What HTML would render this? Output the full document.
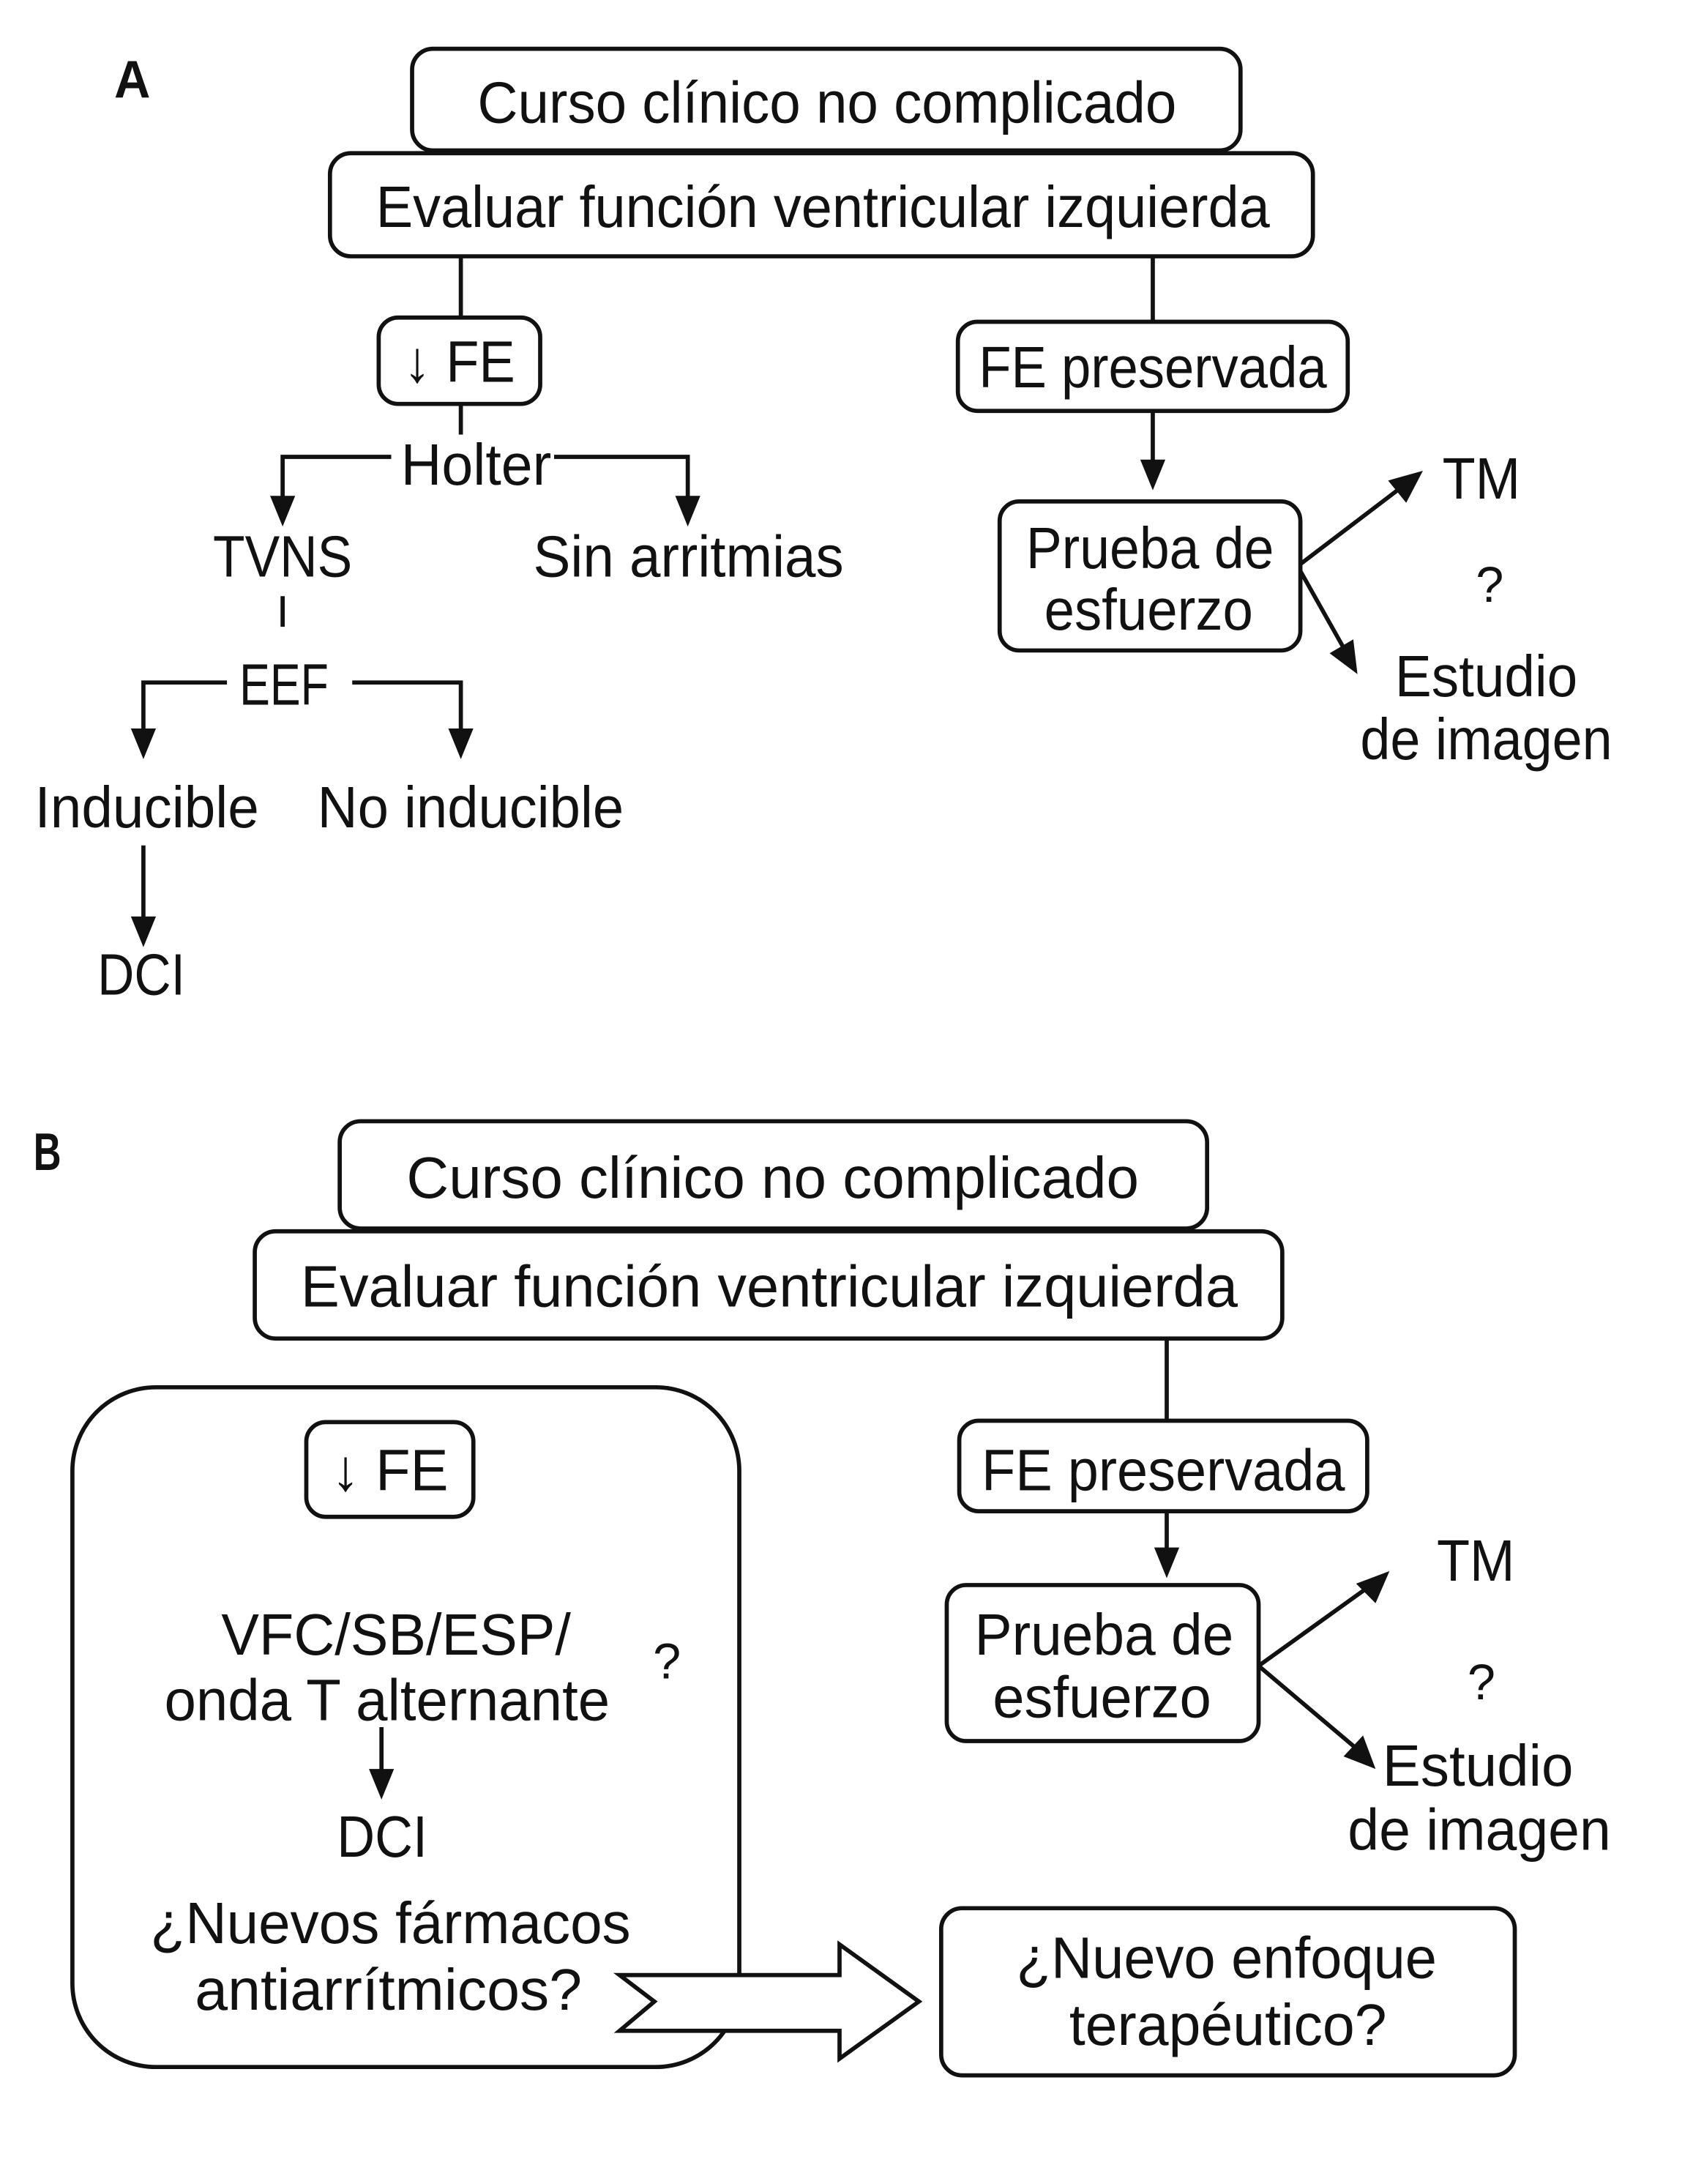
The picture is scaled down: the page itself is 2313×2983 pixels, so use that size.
<!DOCTYPE html>
<html><head><meta charset="utf-8"><style>html,body{margin:0;padding:0;background:#fff}svg{display:block}</style></head><body>
<svg width="2313" height="2983" viewBox="0 0 1216 1568" preserveAspectRatio="none" xmlns="http://www.w3.org/2000/svg">
<defs><marker id="ah" markerWidth="10" markerHeight="10" refX="9" refY="5" orient="auto" markerUnits="userSpaceOnUse" viewBox="0 0 10 10"><path d="M0,0 L10,5 L0,10 z" fill="#111"/></marker>
<marker id="a2" markerWidth="22" markerHeight="26" refX="20" refY="13" orient="auto" markerUnits="userSpaceOnUse"><path d="M0,0 L22,13 L0,26 z" fill="#111"/></marker></defs>
<g fill="none" stroke="#111" stroke-width="3">
<rect x="296" y="35" width="595" height="73" rx="15"/>
<rect x="237" y="110" width="706" height="74" rx="15"/>
<rect x="272" y="228" width="116" height="62" rx="14"/>
<rect x="688" y="231" width="280" height="64" rx="14"/>
<rect x="718" y="360" width="216" height="107" rx="14"/>
<line x1="331" y1="184" x2="331" y2="228"/>
<line x1="828" y1="184" x2="828" y2="231"/>
<line x1="828" y1="295" x2="828" y2="332"/>
<line x1="934" y1="405" x2="1005" y2="351"/>
<line x1="934" y1="410" x2="965" y2="465"/>
<line x1="331" y1="290" x2="331" y2="312"/>
<polyline points="281,328 203,328 203,358"/>
<polyline points="398,328 494,328 494,358"/>
<line x1="203" y1="428" x2="203" y2="450"/>
<polyline points="163,490 103,490 103,525"/>
<polyline points="253,490 331,490 331,525"/>
<line x1="103" y1="607" x2="103" y2="660"/>
<rect x="244" y="805" width="623" height="77" rx="15"/>
<rect x="183" y="884" width="738" height="77" rx="15"/>
<line x1="838" y1="961" x2="838" y2="1020"/>
<rect x="689" y="1020" width="293" height="65" rx="14"/>
<line x1="838" y1="1085" x2="838" y2="1113"/>
<rect x="680" y="1138" width="224" height="112" rx="14"/>
<line x1="904" y1="1196" x2="982" y2="1140"/>
<line x1="904" y1="1196" x2="975" y2="1256"/>
<rect x="52" y="996" width="479" height="488" rx="60"/>
<rect x="220" y="1021" width="120" height="68" rx="14"/>
<line x1="274" y1="1240" x2="274" y2="1272"/>
<rect x="676" y="1370" width="412" height="120" rx="15"/>
</g>
<g fill="#111">
<path d="M203,378 L194,356 L212,356 z"/><path d="M494,378 L485,356 L503,356 z"/>
<path d="M103,545 L94,523 L112,523 z"/><path d="M331,545 L322,523 L340,523 z"/>
<path d="M103,680 L94,658 L112,658 z"/><path d="M828,352 L819,330 L837,330 z"/>
<path d="M838,1133 L829,1111 L847,1111 z"/><path d="M274,1292 L265,1270 L283,1270 z"/>
<path d="M1022,338 L1010,361 L997,345 z"/><path d="M975,484 L955,469 L972,459 z"/>
<path d="M998,1128 L988,1151 L974,1137 z"/><path d="M988,1270 L965,1261 L979,1246 z"/>
</g>
<polygon points="445,1418 603,1418 603,1396 660,1437 603,1478 603,1458 445,1458 470,1437" fill="#fff" stroke="#111" stroke-width="3"/>
<g font-family="'Liberation Sans Narrow','Liberation Sans',sans-serif" font-size="42" fill="#111" lengthAdjust="spacingAndGlyphs">
<text x="82" y="70" font-weight="bold" font-size="38" textLength="26" lengthAdjust="spacingAndGlyphs">A</text>
<text x="24" y="840" font-weight="bold" font-size="38" textLength="20" lengthAdjust="spacingAndGlyphs">B</text>
<text x="343" y="88" textLength="502" lengthAdjust="spacingAndGlyphs">Curso clínico no complicado</text>
<text x="270" y="163" textLength="642" lengthAdjust="spacingAndGlyphs">Evaluar función ventricular izquierda</text>
<text x="290" y="274" textLength="80" lengthAdjust="spacingAndGlyphs">↓ FE</text>
<text x="703" y="278" textLength="250" lengthAdjust="spacingAndGlyphs">FE preservada</text>
<text x="737" y="408" textLength="178" lengthAdjust="spacingAndGlyphs">Prueba de</text>
<text x="750" y="452" textLength="150" lengthAdjust="spacingAndGlyphs">esfuerzo</text>
<text x="1036" y="358" textLength="56" lengthAdjust="spacingAndGlyphs">TM</text>
<text x="1060" y="432" font-size="36">?</text>
<text x="1002" y="500" textLength="131" lengthAdjust="spacingAndGlyphs">Estudio</text>
<text x="977" y="545" textLength="181" lengthAdjust="spacingAndGlyphs">de imagen</text>
<text x="288" y="348" textLength="108" lengthAdjust="spacingAndGlyphs">Holter</text>
<text x="153" y="414" textLength="100" lengthAdjust="spacingAndGlyphs">TVNS</text>
<text x="383" y="414" textLength="223" lengthAdjust="spacingAndGlyphs">Sin arritmias</text>
<text x="172" y="506" textLength="64" lengthAdjust="spacingAndGlyphs">EEF</text>
<text x="25" y="594" textLength="161" lengthAdjust="spacingAndGlyphs">Inducible</text>
<text x="228" y="594" textLength="220" lengthAdjust="spacingAndGlyphs">No inducible</text>
<text x="70" y="714" textLength="63" lengthAdjust="spacingAndGlyphs">DCI</text>
<text x="292" y="860" textLength="526" lengthAdjust="spacingAndGlyphs">Curso clínico no complicado</text>
<text x="216" y="938" textLength="673" lengthAdjust="spacingAndGlyphs">Evaluar función ventricular izquierda</text>
<text x="705" y="1070" textLength="261" lengthAdjust="spacingAndGlyphs">FE preservada</text>
<text x="700" y="1188" textLength="186" lengthAdjust="spacingAndGlyphs">Prueba de</text>
<text x="713" y="1233" textLength="157" lengthAdjust="spacingAndGlyphs">esfuerzo</text>
<text x="1032" y="1135" textLength="56" lengthAdjust="spacingAndGlyphs">TM</text>
<text x="1054" y="1220" font-size="36">?</text>
<text x="993" y="1282" textLength="137" lengthAdjust="spacingAndGlyphs">Estudio</text>
<text x="968" y="1328" textLength="189" lengthAdjust="spacingAndGlyphs">de imagen</text>
<text x="238" y="1070" textLength="84" lengthAdjust="spacingAndGlyphs">↓ FE</text>
<text x="159" y="1188" textLength="251" lengthAdjust="spacingAndGlyphs">VFC/SB/ESP/</text>
<text x="118" y="1235" textLength="320" lengthAdjust="spacingAndGlyphs">onda T alternante</text>
<text x="469" y="1205" font-size="36">?</text>
<text x="242" y="1333" textLength="65" lengthAdjust="spacingAndGlyphs">DCI</text>
<text x="108" y="1395" textLength="345" lengthAdjust="spacingAndGlyphs">¿Nuevos fármacos</text>
<text x="140" y="1443" textLength="278" lengthAdjust="spacingAndGlyphs">antiarrítmicos?</text>
<text x="730" y="1420" textLength="302" lengthAdjust="spacingAndGlyphs">¿Nuevo enfoque</text>
<text x="768" y="1468" textLength="228" lengthAdjust="spacingAndGlyphs">terapéutico?</text>
</g>
</svg>
</body></html>
